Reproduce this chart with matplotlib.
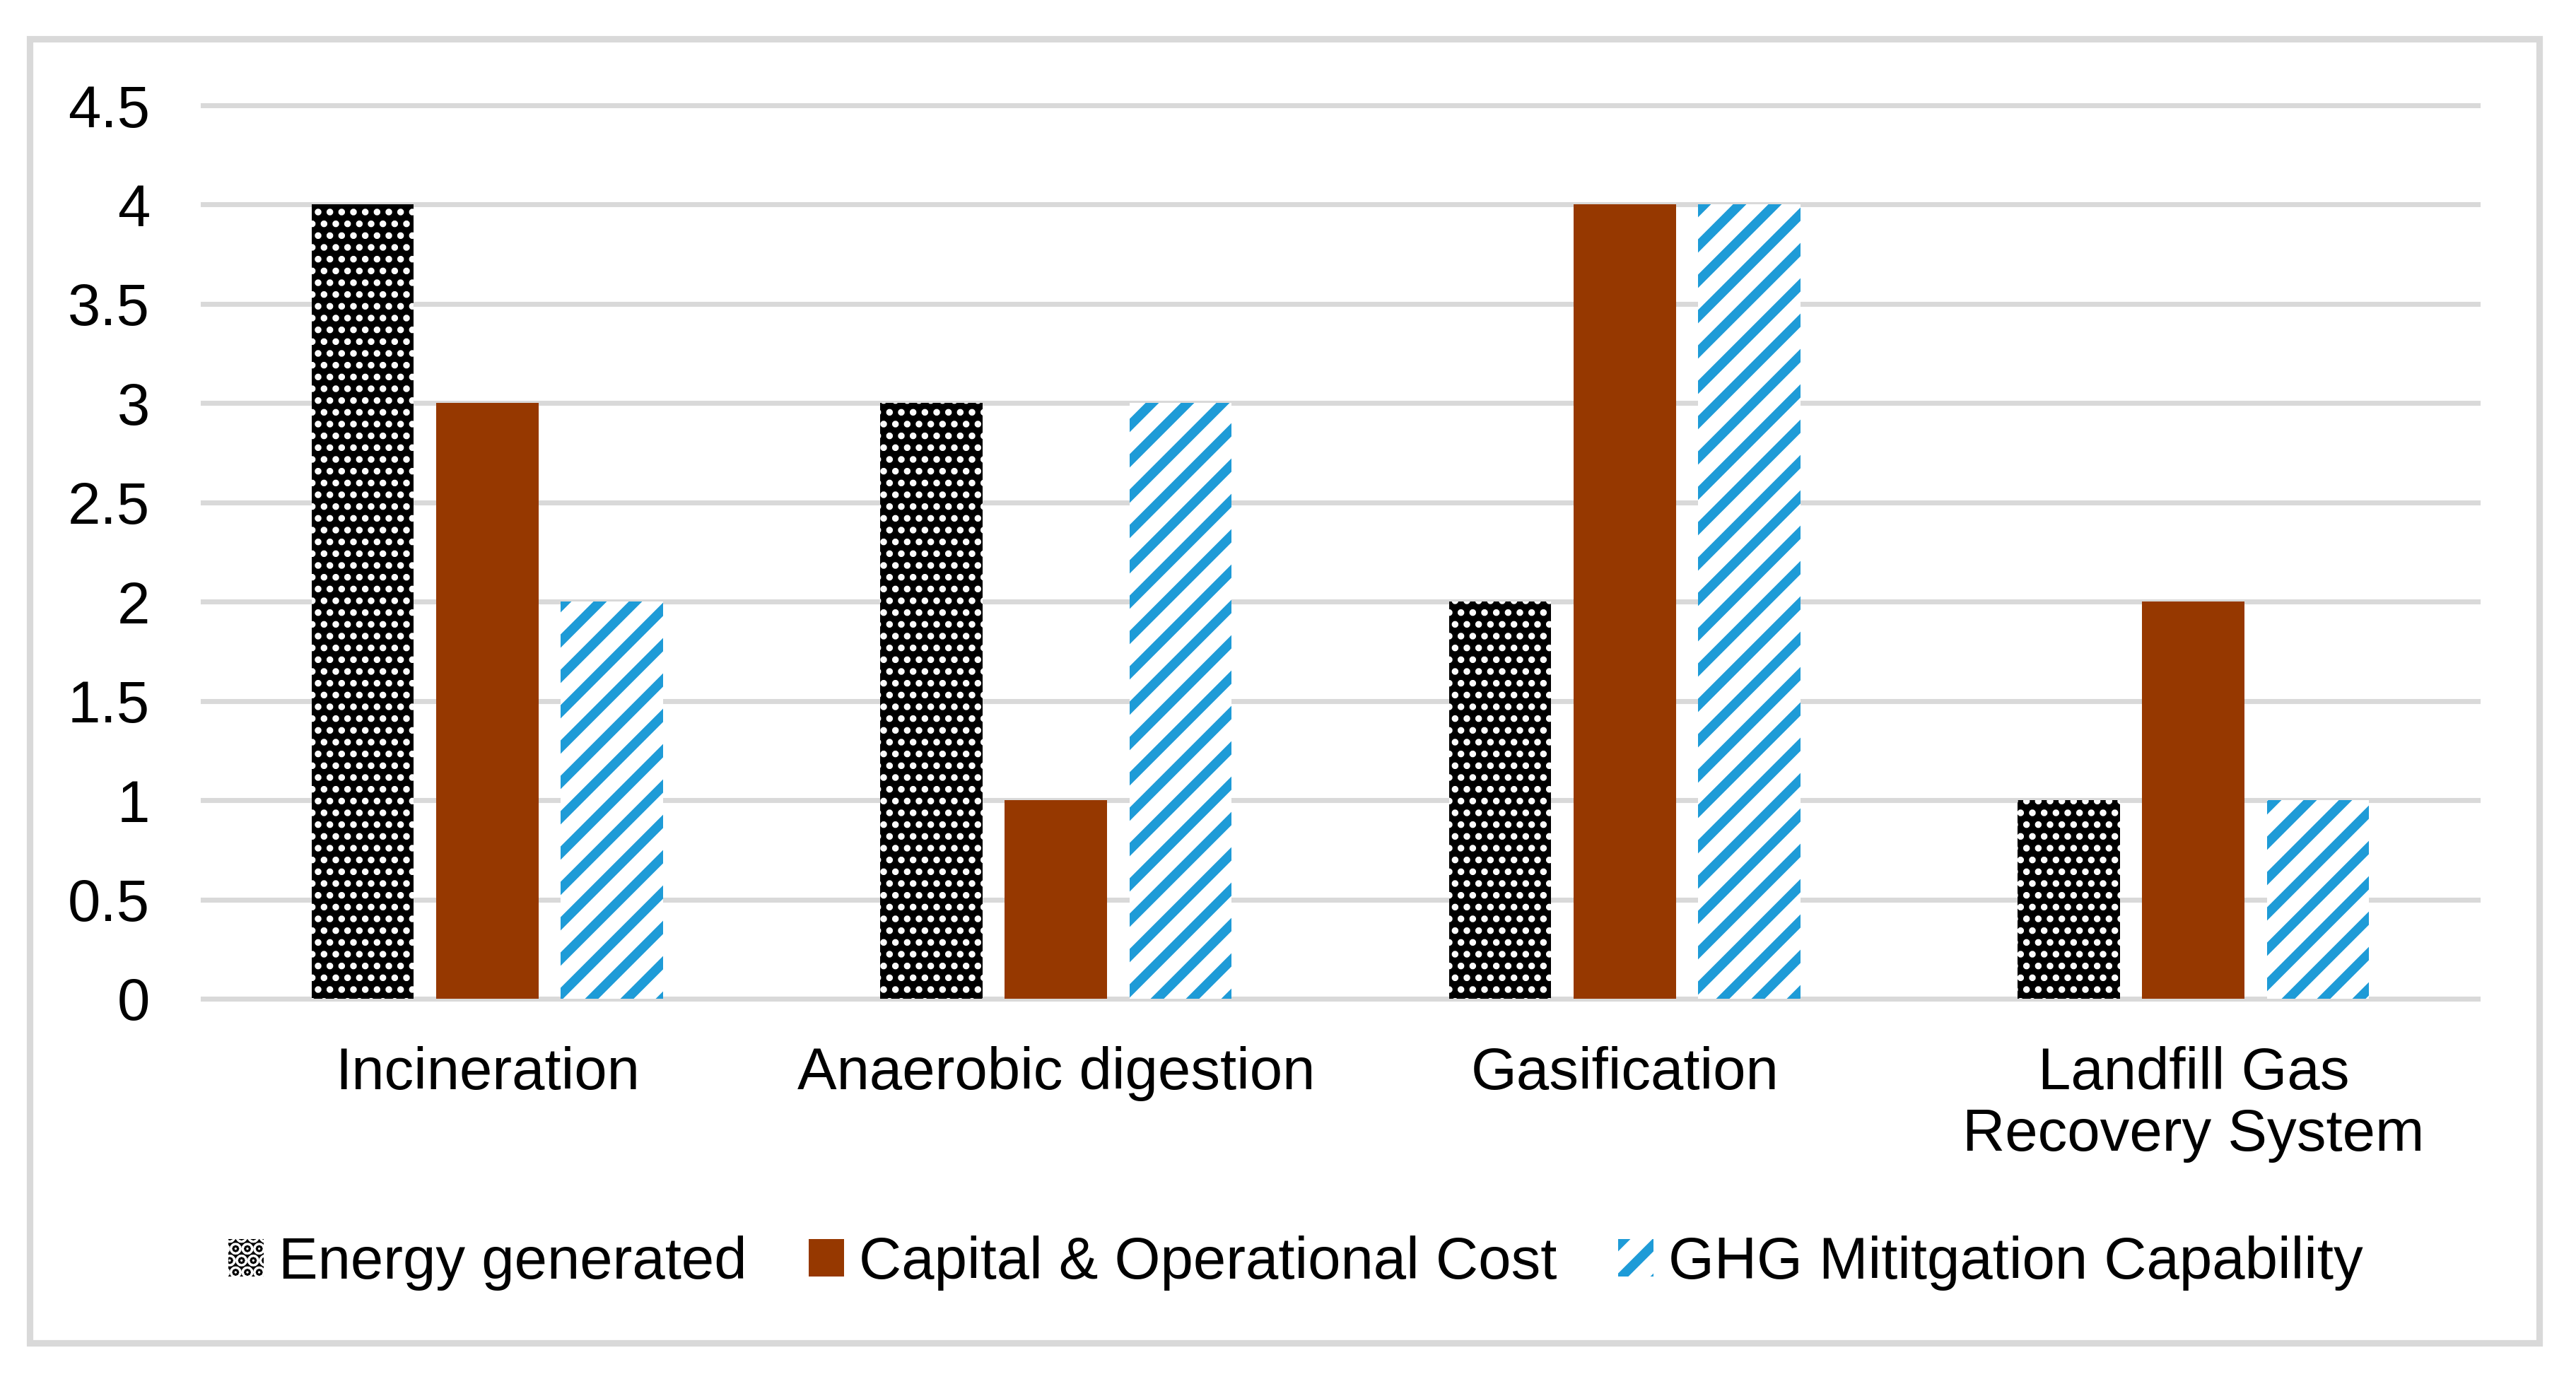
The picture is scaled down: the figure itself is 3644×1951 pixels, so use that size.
import matplotlib.pyplot as plt
import matplotlib.patches as mpatches
import numpy as np

categories = ["Incineration", "Anaerobic digestion", "Gasification", "Landfill Gas\nRecovery System"]
energy = [4, 3, 2, 1]
cost = [3, 1, 4, 2]
ghg = [2, 3, 4, 1]
series_names = ["Energy generated", "Capital & Operational Cost", "GHG Mititgation Capability"]
yticks = [0, 0.5, 1, 1.5, 2, 2.5, 3, 3.5, 4, 4.5]

plt.rcParams['font.family'] = ['Liberation Sans', 'DejaVu Sans']
plt.rcParams['font.size'] = 20

W, H, DPI = 3644, 1951, 300
fig = plt.figure(figsize=(W / DPI, H / DPI), dpi=DPI)
ax = fig.add_axes([287 / W, 1 - 1413 / H, (3505 - 287) / W, (1413 - 149) / H])

x = np.arange(len(categories))
w = 0.18
step = 0.219

def hatch_lw(bars, lw):
    for b in bars:
        if hasattr(b, "set_hatch_linewidth"):
            b.set_hatch_linewidth(lw)

plt.rcParams['hatch.linewidth'] = 1.45
b1 = ax.bar(x - step, energy, w, facecolor="black", edgecolor="white", linewidth=0,
            hatch="...", label=series_names[0])
hatch_lw(b1, 1.45)
b2 = ax.bar(x, cost, w, color="#963800", linewidth=0, label=series_names[1])
plt.rcParams['hatch.linewidth'] = 3.2
b3 = ax.bar(x + step, ghg, w, facecolor="white", edgecolor="#1e9bd7", linewidth=0,
            hatch="//", label=series_names[2])
hatch_lw(b3, 3.2)

ax.set_xlim(-0.5, len(categories) - 0.5)
ax.set_ylim(0, 4.5)
ax.set_yticks(yticks)
ax.set_yticklabels(["0", "0.5", "1", "1.5", "2", "2.5", "3", "3.5", "4", "4.5"])
ax.set_xticks(x)
ax.set_xticklabels(categories, linespacing=1.15)
ax.tick_params(axis="y", length=0, pad=18)
ax.tick_params(axis="x", length=0, pad=16)
for s in ax.spines.values():
    s.set_visible(False)
ax.set_axisbelow(True)
ax.yaxis.grid(True, color="#d9d9d9", linewidth=1.7)
for l in ax.get_ygridlines():
    l.set_clip_on(False)

fig.legend(loc="center", bbox_to_anchor=(0.503, 1 - 1787 / H), ncol=3, frameon=False,
           handlelength=0.6, handleheight=0.6, handletextpad=0.25, columnspacing=1.05)

# outer frame
fig.patches.append(mpatches.Rectangle((42 / W, 1 - 1900 / H), (3592 - 42) / W, (1900 - 55) / H,
                                      transform=fig.transFigure, fill=False,
                                      edgecolor="#d9d9d9", linewidth=2.2))

fig.savefig("out.png", dpi=DPI)
